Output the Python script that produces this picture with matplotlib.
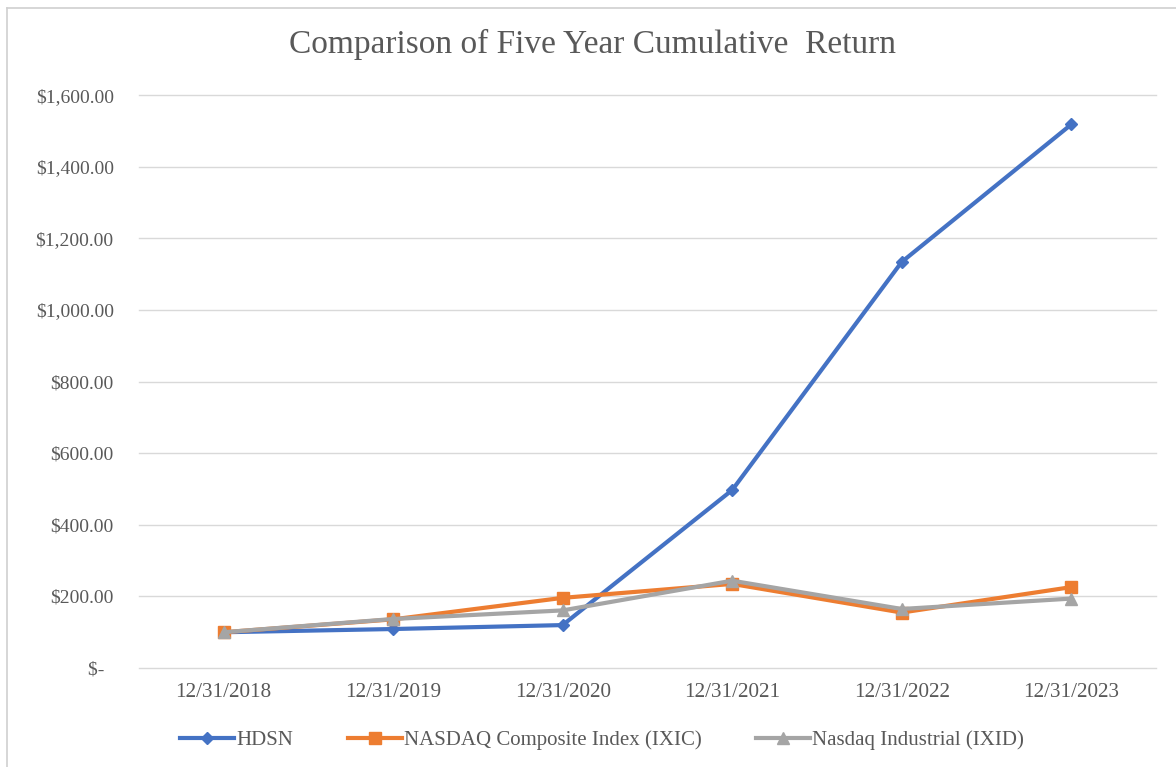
import matplotlib as mpl
import matplotlib.pyplot as plt
from matplotlib.lines import Line2D

dates = ["12/31/2018", "12/31/2019", "12/31/2020", "12/31/2021", "12/31/2022", "12/31/2023"]
hdsn = [100, 109, 120, 497, 1134, 1518]
nasdaq_comp = [100, 136, 196, 235, 155, 226]
nasdaq_ind = [100, 137, 161, 244, 165, 194]

y_ticks = [0, 200, 400, 600, 800, 1000, 1200, 1400, 1600]
y_labels = ["$-  ", "$200.00", "$400.00", "$600.00", "$800.00",
            "$1,000.00", "$1,200.00", "$1,400.00", "$1,600.00"]

TEXT = "#595959"
GRID = "#D9D9D9"

plt.rcParams["font.family"] = ["Liberation Serif", "DejaVu Serif"]

fig = plt.figure(figsize=(11.76, 7.67), dpi=100)
ax = fig.add_axes([0.118, 0.129, 0.865, 0.747])

x = range(len(dates))
series = [
    ("HDSN", hdsn, "#4472C4", "D", 6),
    ("NASDAQ Composite Index (IXIC)", nasdaq_comp, "#ED7D31", "s", 8),
    ("Nasdaq Industrial (IXID)", nasdaq_ind, "#A5A5A5", "^", 9),
]
for name, vals, color, mk, ms in series:
    ax.plot(x, vals, color=color, lw=3.0, marker=mk, ms=ms, label=name,
            solid_joinstyle="round", solid_capstyle="round")

ax.set_xlim(-0.5, 5.5)
ax.set_ylim(0, 1600)
ax.set_yticks(y_ticks)
ax.set_yticklabels(y_labels)
ax.set_xticks(list(x))
ax.set_xticklabels(dates)
ax.tick_params(axis="y", length=0, pad=18, labelsize=14, labelcolor=TEXT)
ax.tick_params(axis="x", length=0, pad=11, labelsize=15.2, labelcolor=TEXT)
ax.grid(axis="y", color=GRID, lw=1.0)
for gl in ax.get_ygridlines():
    gl.set_clip_on(False)
ax.set_axisbelow(True)
for s in ax.spines.values():
    s.set_visible(False)

fig.text(0.504, 0.942, "Comparison of Five Year Cumulative  Return",
         ha="center", va="center", fontsize=24, color=TEXT)

handles = [Line2D([0], [0], color=c, lw=3.0, marker=m, ms=ms)
           for _, _, c, m, ms in series]
fig.legend(handles, [s[0] for s in series], loc="center", ncol=3,
           bbox_to_anchor=(0.512, 0.035), frameon=False, fontsize=15,
           labelcolor=TEXT, handlelength=2.6, handletextpad=0.1,
           columnspacing=2.6)

# light outer frame (top and left edges visible in the source)
fig.add_artist(Line2D([0.006, 1.0], [0.99, 0.99], transform=fig.transFigure,
                      color="#D0D0D0", lw=1.2))
fig.add_artist(Line2D([0.006, 0.006], [0.0, 0.99], transform=fig.transFigure,
                      color="#D0D0D0", lw=1.2))

fig.savefig("out.png", dpi=100)
